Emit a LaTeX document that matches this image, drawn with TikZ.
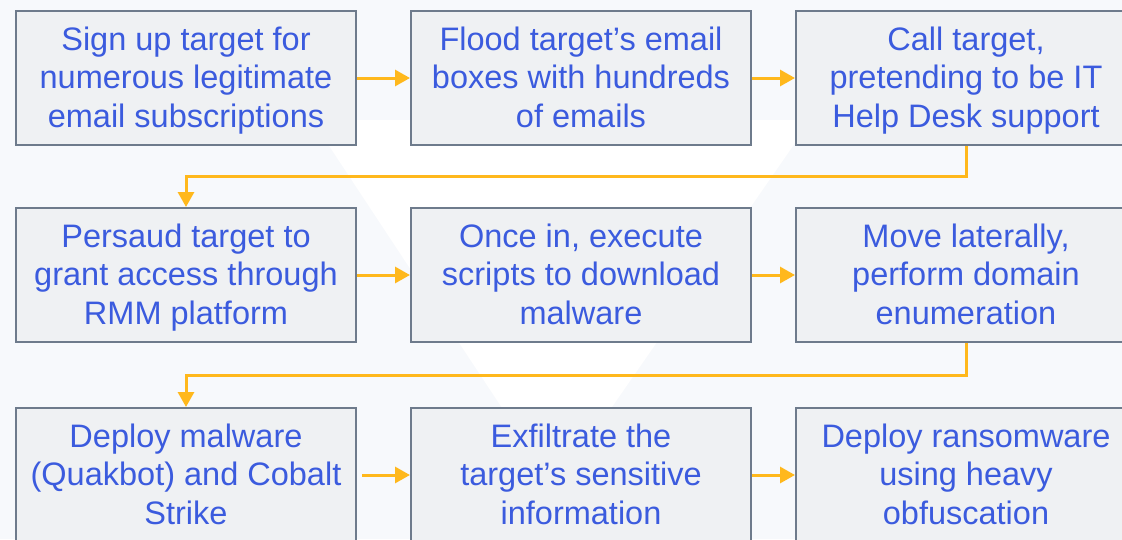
\documentclass[tikz,border=0pt]{standalone}
\usepackage{fontspec}
\setmainfont{Liberation Sans}
\usetikzlibrary{positioning,arrows.meta}
\definecolor{stepblue}{HTML}{3B5BDE}
\definecolor{stepfill}{HTML}{EFF1F3}
\definecolor{stepline}{HTML}{6E7B8C}
\definecolor{flowyellow}{HTML}{FFB81C}
\definecolor{pagebg}{HTML}{F7F9FC}
\tikzstyle{grey step}=[
    draw = stepline,
    line width = 2pt,
    fill = stepfill,
    minimum width = 340pt,
    minimum height = 134pt,
    inner sep = 0pt,
    align = center,
    text = stepblue,
    font = \fontsize{32.5}{38.5}\selectfont,
    text height = 107pt,
    text depth = 9pt
]

\begin{document}
\begin{tikzpicture}[x=1pt, y=1pt, flow/.style = {draw=flowyellow, line width=3pt, -{Triangle[length=15pt,width=16pt]}}]
        \useasboundingbox (0,0) rectangle (1122,-539);
        \clip (0,0) rectangle (1122,-539);
        \fill[pagebg] (0,0) rectangle (1122,-539);
        \fill[white] (312,-120) -- (811,-120) -- (603,-420) -- (510,-420) -- cycle;

        \node[grey step] (1) at (186,-78) {Sign up target for\\numerous legitimate\\email subscriptions};
        \node[grey step] (2) [right = 53pt of 1] {Flood target’s email\\boxes with hundreds\\of emails};
        \node[grey step] (3) [right = 43pt of 2] {Call target,\\pretending to be IT\\Help Desk support};
        \node[grey step] (4) [below = 61pt of 1] {Persaud target to\\grant access through\\RMM platform};
        \node[grey step] (5) [right = 53pt of 4] {Once in, execute\\scripts to download\\malware};
        \node[grey step] (6) [right = 43pt of 5] {Move laterally,\\perform domain\\enumeration};
        \node[grey step] (7) [below = 64pt of 4] {Deploy malware\\(Quakbot) and Cobalt\\Strike};
        \node[grey step] (8) [right = 53pt of 7] {Exfiltrate the\\target’s sensitive\\information};
        \node[grey step] (9) [right = 43pt of 8] {Deploy ransomware\\using heavy\\obfuscation};

        \draw[flow] (1) -- (2);
        \draw[flow] (2) -- (3);
        \draw[flow] (3.south) -- ++(0,-30) -| (4.north);
        \draw[flow] (4) -- (5);
        \draw[flow] (5) -- (6);
        \draw[flow] (6.south) -- ++(0,-32) -| (7.north);
        \draw[flow, shorten <=5pt] (7) -- (8);
        \draw[flow] (8) -- (9);

    \end{tikzpicture}
\end{document}
